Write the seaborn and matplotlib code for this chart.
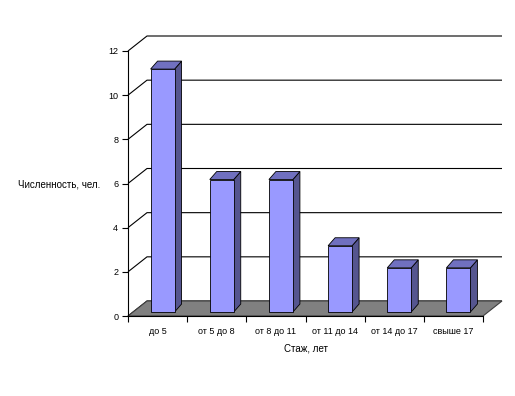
import matplotlib
matplotlib.use('Agg')
import matplotlib.pyplot as plt
import seaborn as sns
import pandas as pd
from matplotlib.patches import Polygon

categories = ["до 5", "от 5 до 8", "от 8 до 11", "от 11 до 14", "от 14 до 17", "свыше 17"]
values = [11, 6, 6, 3, 2, 2]
y_ticks = [0, 2, 4, 6, 8, 10, 12]
x_label = "Стаж, лет"
y_label = "Численность, чел."

sns.set_theme(style='white')
plt.rcParams['font.family'] = ['Liberation Sans', 'DejaVu Sans']

W, H = 515, 396
fig = plt.figure(figsize=(W / 100, H / 100), dpi=100)
L, R, B, T = 128, 483, 316, 51
ax = fig.add_axes([L / W, 1 - B / H, (R - L) / W, (B - T) / H])
ax.set_xlim(-0.5, len(categories) - 0.5)
ax.set_ylim(0, 12)
px_x = len(categories) / (R - L)
px_y = 12 / (B - T)
DX, DY = 19 * px_x, 15 * px_y
x0, x1 = -0.5, len(categories) - 0.5

# back wall gridlines + left diagonal lines
for v in y_ticks:
    ax.plot([x0, x0 + DX, x1 + DX], [v, v + DY, v + DY], color='black', lw=0.8,
            clip_on=False, zorder=1, solid_capstyle='butt')

# floor
floor = Polygon([(x0, 0), (x1, 0), (x1 + DX, DY), (x0 + DX, DY)], closed=True,
                facecolor='#808080', edgecolor='#404040', lw=0.8, clip_on=False, zorder=2)
ax.add_patch(floor)

df = pd.DataFrame({'cat': categories, 'val': values})
sns.barplot(data=df, x='cat', y='val', ax=ax, color='#9999FF', saturation=1,
            width=24 * px_x, edgecolor='black', linewidth=0.6, zorder=5)

bdx, bdy = 7 * px_x, 8 * px_y
for p in ax.patches:
    if p is floor:
        continue
    p.set_x(p.get_x() + 5 * px_x)
    p.set_y(p.get_y() + 4 * px_y)
    p.set_clip_on(False)
    xa = p.get_x(); xb = xa + p.get_width()
    ya = p.get_y(); yb = ya + p.get_height()
    side = Polygon([(xb, ya), (xb + bdx, ya + bdy), (xb + bdx, yb + bdy), (xb, yb)],
                   closed=True, facecolor='#55558F', edgecolor='black', lw=0.6,
                   clip_on=False, zorder=4)
    top = Polygon([(xa, yb), (xb, yb), (xb + bdx, yb + bdy), (xa + bdx, yb + bdy)],
                  closed=True, facecolor='#7070C0', edgecolor='black', lw=0.6,
                  clip_on=False, zorder=4)
    ax.add_patch(side)
    ax.add_patch(top)

ax.set_xlim(x0, x1)
ax.set_ylim(0, 12)
for s in ['top', 'right']:
    ax.spines[s].set_visible(False)
for s in ['left', 'bottom']:
    ax.spines[s].set_color('black')
    ax.spines[s].set_linewidth(0.8)
    ax.spines[s].set_zorder(6)

ax.set_yticks(y_ticks)
ax.set_yticklabels([str(v) for v in y_ticks], fontsize=6.5, color='black')
ax.set_xticks([i + 0.5 for i in range(-1, len(categories))])
ax.set_xticklabels([])
ax.set_xticks(range(len(categories)), minor=True)
ax.set_xticklabels(categories, minor=True, fontsize=6.5, color='black')
ax.tick_params(axis='y', which='major', left=True, length=4, width=0.8, color='black', pad=3)
ax.tick_params(axis='x', which='major', bottom=True, length=4, width=0.8, color='black')
ax.tick_params(axis='x', which='minor', bottom=True, length=0, pad=8)
ax.set_xlabel(x_label, fontsize=7, color='black', labelpad=5)
ax.set_ylabel('')
fig.text(18 / W, 1 - 185 / H, y_label, fontsize=7, color='black', ha='left', va='center')

fig.savefig('out.png', dpi=100)
